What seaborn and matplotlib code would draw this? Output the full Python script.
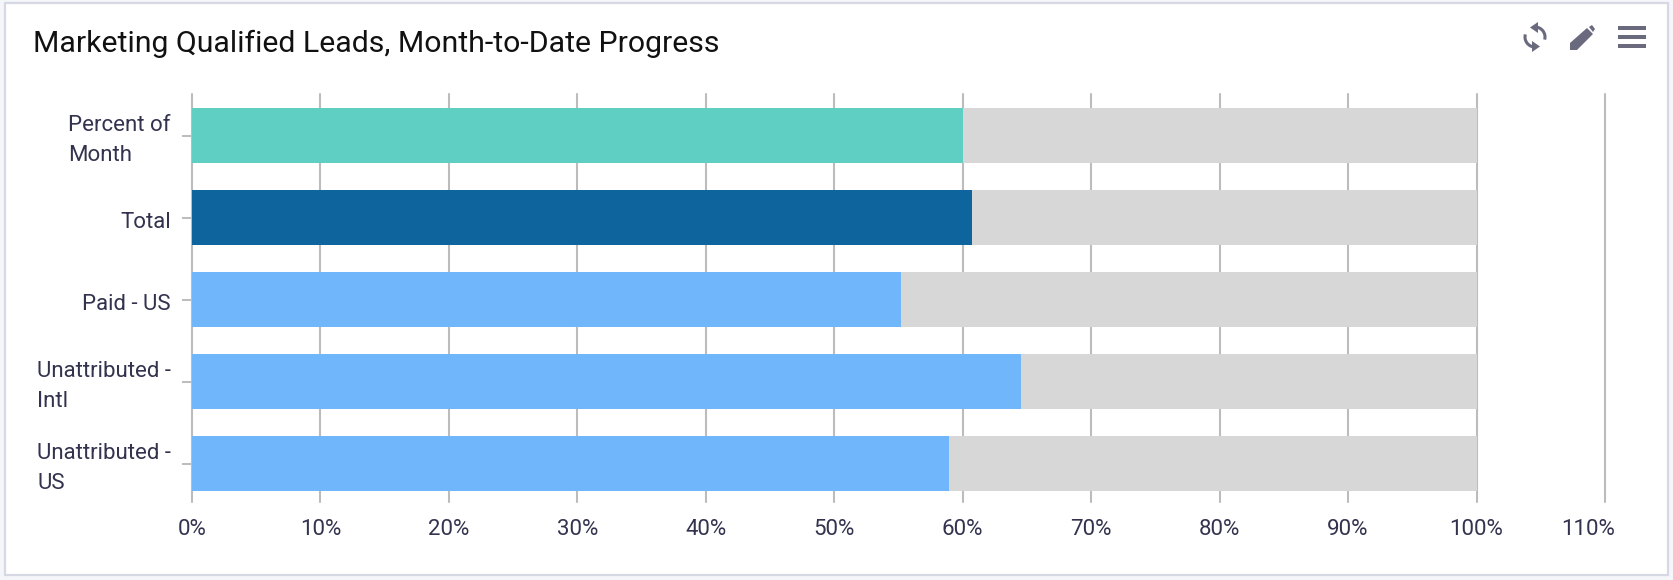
import matplotlib
matplotlib.use("Agg")
import matplotlib.pyplot as plt
import matplotlib.transforms as mtrans
from matplotlib.patches import Rectangle, Polygon, Arc
import pandas as pd
import seaborn as sns

# === DATA
categories = ["Percent of\nMonth", "Total", "Paid - US", "Unattributed -\nIntl", "Unattributed -\nUS"]
progress = [60.0, 60.7, 55.2, 64.5, 58.9]
full = [100, 100, 100, 100, 100]
bar_colors = ["#5fcfc4", "#0e659e", "#70b6fb", "#70b6fb", "#70b6fb"]
x_ticks = [0, 10, 20, 30, 40, 50, 60, 70, 80, 90, 100, 110]
x_labels = [f"{v}%" for v in x_ticks]
title = "Marketing Qualified Leads, Month-to-Date Progress"

W, H = 1674, 580
TEXT = "#33334f"
GRID = "#bcbcbc"
GREY_BAR = "#d7d7d7"
BORDER = "#d6d9e3"

sns.set_theme(style="white")
plt.rcParams["font.family"] = ["Roboto", "DejaVu Sans"]

df = pd.DataFrame({"cat": categories, "progress": progress, "full": full})

fig = plt.figure(figsize=(W / 100, H / 100), dpi=100, facecolor="#f5f6fa")

# frame of the card
bg = fig.add_axes([0, 0, 1, 1], zorder=0)
bg.set_xlim(0, W)
bg.set_ylim(H, 0)
bg.axis("off")
bg.add_patch(Rectangle((5, 3), 1663, 572, facecolor="white", edgecolor=BORDER, lw=1.6))

# plot area in pixels: 0% at 192, 110% at 1605, gridlines from y=94 to y=502
left, right, top, bottom = 192, 1605, 94, 502
ax = fig.add_axes([left / W, 1 - bottom / H, (right - left) / W, (bottom - top) / H], zorder=1)
ax.patch.set_alpha(0)

sns.barplot(data=df, y="cat", x="full", color=GREY_BAR, width=0.675, saturation=1,
            linewidth=0, ax=ax, zorder=2)
sns.barplot(data=df, y="cat", x="progress", hue="cat", palette=bar_colors, legend=False,
            width=0.675, saturation=1, linewidth=0, ax=ax, zorder=3)

ax.set_xlim(0, 110)
ax.set_ylim((bottom - 135.5) / 82, (top - 135.5) / 82)
ax.set_xlabel("")
ax.set_ylabel("")
sns.despine(ax=ax, left=True, bottom=True)
ax.set_axisbelow(True)
ax.grid(axis="x", color=GRID, lw=1.5)
for line in ax.get_xgridlines():
    line.set_clip_on(False)

ax.set_xticks(x_ticks)
ax.set_xticklabels(x_labels)
ax.tick_params(axis="x", length=0, pad=12, labelsize=16, labelcolor=TEXT)
ax.tick_params(axis="y", length=7.2, width=1.4, color=GRID, left=True, pad=8, labelsize=16, labelcolor=TEXT)

# the last x label is pulled back inside the plot
last = ax.get_xticklabels()[-1]
last.set_transform(last.get_transform() + mtrans.ScaledTranslation(-17 / 100, 0, fig.dpi_scale_trans))

# one-line y labels sit under their tick, two-line ones a bit above centre
for lab in ax.get_yticklabels():
    dy = 2 if "\n" in lab.get_text() else -2
    lab.set_multialignment("left")
    lab.set_linespacing(1.55)
    lab.set_transform(lab.get_transform() + mtrans.ScaledTranslation(0, dy / 100, fig.dpi_scale_trans))

fig.text(33 / W, 1 - 44 / H, title, fontsize=21.8, color="#111111", va="center", ha="left", zorder=5)

# toolbar icons
ICON = "#6a6a7e"
ic = fig.add_axes([0, 0, 1, 1], zorder=4)
ic.set_xlim(0, W)
ic.set_ylim(H, 0)
ic.axis("off")
for y in (26, 35, 44):
    ic.add_patch(Rectangle((1618, y), 28, 4, color=ICON, lw=0))
ic.add_patch(Polygon([(1570, 50), (1570, 43), (1587, 28), (1593, 34), (1577, 50)], color=ICON, lw=0))
ic.add_patch(Polygon([(1589, 27), (1592, 25), (1595, 29), (1593, 32)], color=ICON, lw=0))
ic.add_patch(Arc((1535, 37), 20, 20, theta1=270, theta2=375, color=ICON, lw=2.2))
ic.add_patch(Arc((1535, 37), 20, 20, theta1=90, theta2=195, color=ICON, lw=2.2))
ic.add_patch(Polygon([(1538, 22), (1530, 27.5), (1538, 33)], color=ICON, lw=0))
ic.add_patch(Polygon([(1532, 41), (1540, 46.5), (1532, 52)], color=ICON, lw=0))

fig.savefig("out.png", dpi=100, facecolor=fig.get_facecolor())
plt.close(fig)
